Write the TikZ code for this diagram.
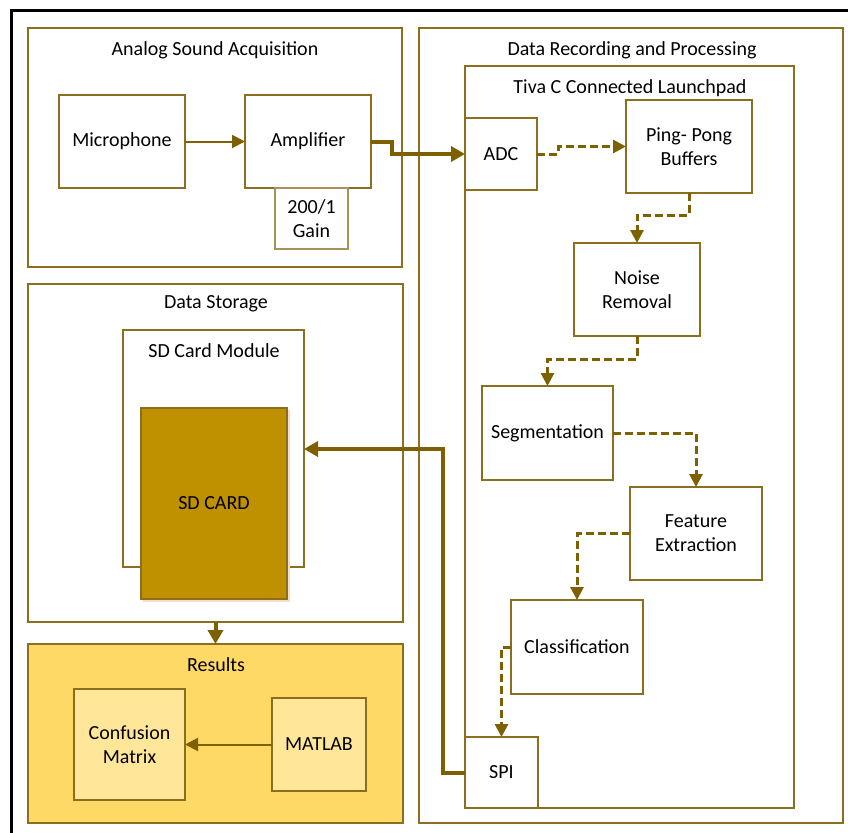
\documentclass[tikz,border=0pt]{standalone}
\usepackage{fontspec}
\setmainfont{Carlito}
\usetikzlibrary{arrows.meta}

\definecolor{gold}{HTML}{7F6000}
\definecolor{boxline}{HTML}{8B6E1E}
\definecolor{gainline}{HTML}{A8925A}
\definecolor{cardfill}{HTML}{BF9000}
\definecolor{resfill}{HTML}{FFD966}
\definecolor{resbox}{HTML}{FFE699}
\definecolor{cardshade}{HTML}{F7DCC4}

\begin{document}
\begin{tikzpicture}[x=1pt,y=-1pt,
  every node/.style={font=\fontsize{20}{24}\selectfont, text=black},
  group/.style={draw=boxline, line width=1.5pt, inner sep=0pt, outer sep=0pt},
  block/.style={draw=boxline, line width=1.5pt, align=center, inner sep=0pt, outer sep=0pt},
  title/.style={inner sep=0pt, anchor=center},
  flow/.style={draw=gold, line width=2pt, -{Triangle[length=13pt,width=13pt]}},
  bus/.style={draw=gold, line width=4pt, -{Triangle[length=14pt,width=15pt]}},
  dashflow/.style={draw=gold, line width=3pt, dash pattern=on 8pt off 4pt,
    -{Triangle[length=13pt,width=13pt]}}
]
\useasboundingbox (0,0) rectangle (848,832);

% outer black frame
\draw[black, line width=3pt] (11,840) -- (11,11) -- (860,11);

% ---------- group containers ----------
\node[group, minimum width=374pt, minimum height=239pt] (analog) at (215,147.5) {};
\node[group, minimum width=424pt, minimum height=795pt] (rec) at (631,425.5) {};
\node[group, minimum width=329pt, minimum height=742pt] (tiva) at (629.5,437) {};
\node[group, minimum width=375pt, minimum height=338pt] (storage) at (215.5,453) {};
\node[group, minimum width=181pt, minimum height=237pt] (module) at (213.5,448.5) {};
\node[group, fill=resfill, minimum width=375pt, minimum height=179pt] (results) at (215.5,733.5) {};

% group titles
\node[title] (tanalog) at (215,50) {Analog Sound Acquisition};
\node[title] (trec) at (632,50) {Data Recording and Processing};
\node[title] (ttiva) at (630,88) {Tiva C Connected Launchpad};
\node[title] (tstorage) at (216,304) {Data Storage};
\node[title] (tmodule) at (214,351) {SD Card Module};
\node[title] (tresults) at (216,665) {Results};

% ---------- blocks ----------
\node[block, minimum width=126pt, minimum height=93pt] (mic) at (122,141.5) {Microphone};
\node[block, minimum width=126pt, minimum height=93pt] (amp) at (308,141.5) {Amplifier};
\node[block, draw=gainline, line width=1.2pt, minimum width=73pt, minimum height=61pt] (gain) at (311.5,218.5) {200/1\\Gain};

\node[block, minimum width=72pt, minimum height=72pt] (adc) at (501,154) {ADC};
\node[block, minimum width=126pt, minimum height=93pt] (pp) at (689,146.5) {Ping- Pong\\Buffers};
\node[block, minimum width=126pt, minimum height=93pt] (noise) at (637,289.5) {Noise\\Removal};
\node[block, minimum width=131pt, minimum height=94pt] (seg) at (547.5,433) {Segmentation};
\node[block, minimum width=132pt, minimum height=93pt] (feat) at (696,533.5) {Feature\\Extraction};
\node[block, minimum width=132pt, minimum height=94pt] (cls) at (577,647) {Classification};
\node[block, minimum width=73pt, minimum height=71pt] (spi) at (501.5,772.5) {SPI};

% SD card with its soft shade
\fill[cardshade] (143,599) rectangle (289,602);
\fill[cardshade] (287,410) rectangle (289.5,602);
\node[block, fill=cardfill, minimum width=146pt, minimum height=191pt] (card) at (214,503.5) {SD CARD};

\node[block, fill=resbox, minimum width=111pt, minimum height=111pt] (conf) at (129.5,744.5) {Confusion\\Matrix};
\node[block, fill=resbox, minimum width=94pt, minimum height=93pt] (matlab) at (319,744.5) {MATLAB};

% ---------- connectors ----------
\coordinate (jamp) at (392,154);
\coordinate (jadc) at (558,146.5);
\coordinate (jpp) at (689,215);
\coordinate (jnoise) at (637,359);
\coordinate (jspi) at (443,449);

\draw[flow] (mic) -- (amp);
\draw[bus] (amp.east) -| (jamp) -- (adc.west);
\draw[dashflow] (adc.east) -| (jadc) -- (pp.west);
\draw[dashflow] (pp.south) -- (jpp) -| (noise.north);
\draw[dashflow] (noise.south) -- (jnoise) -| (seg.north);
\draw[dashflow] (seg.east) -| (feat.north);
\draw[dashflow] (feat.west) -| (cls.north);
\draw[dashflow] (cls.west) -| (spi.north);
\draw[bus] (spi.west) -| (jspi) -- (module.east |- jspi);
\draw[bus] (storage.south) -- (results.north);
\draw[flow] (matlab) -- (conf);
\end{tikzpicture}
\end{document}
